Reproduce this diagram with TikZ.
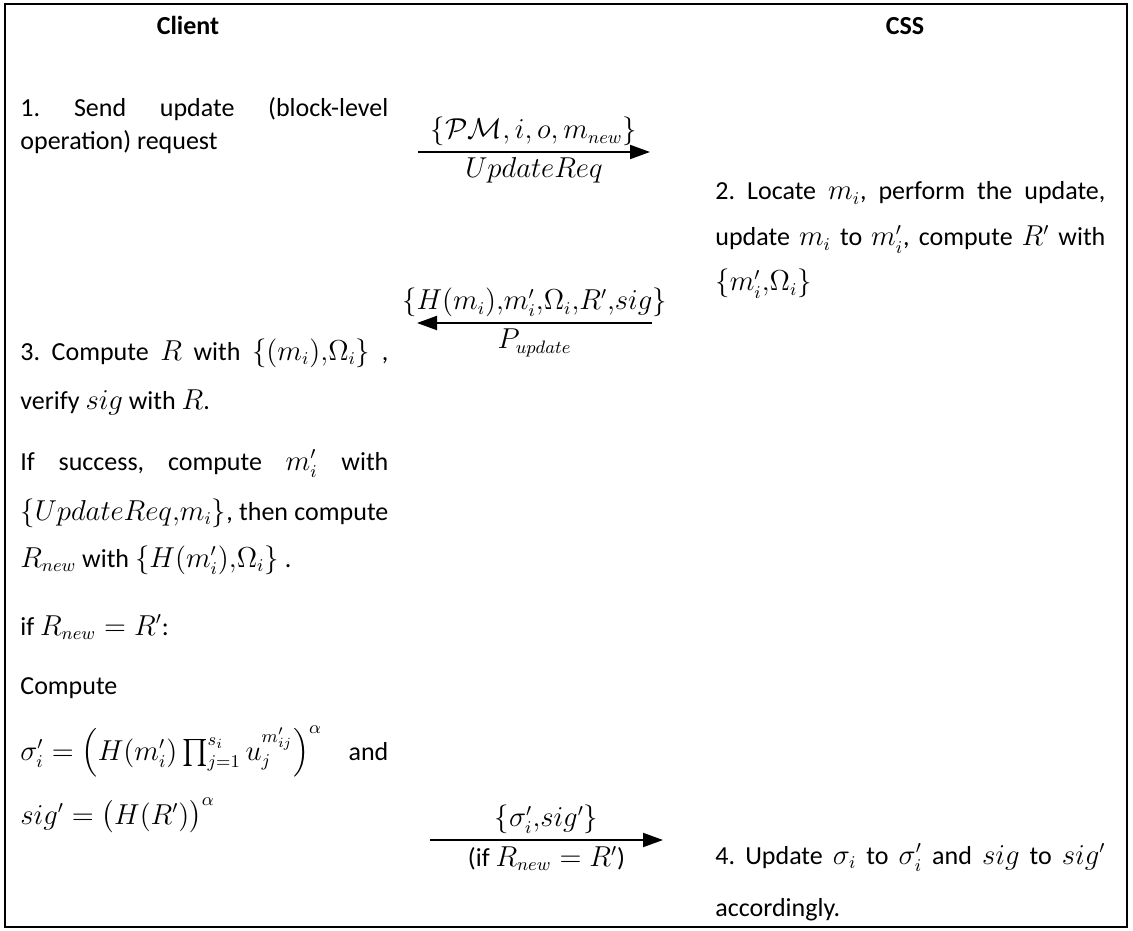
\documentclass[tikz,border=0pt]{standalone}
\usepackage{amsmath,amssymb}
\usepackage[no-math]{fontspec}
\setmainfont{Carlito}
\usetikzlibrary{arrows.meta}
\DeclareMathSizes{13}{13.5}{9.5}{7.5}
\frenchspacing
\newcommand{\jl}[1]{\makebox[184pt][s]{#1}}
\newcommand{\jr}[1]{\makebox[195pt][s]{#1}}

\begin{document}
\begin{tikzpicture}[x=0.5pt,y=-0.5pt,
    every node/.style={font=\fontsize{13pt}{15pt}\selectfont},
    txt/.style={anchor=base west,inner sep=0pt},
    head/.style={anchor=base,inner sep=0pt,font=\fontsize{13pt}{15pt}\selectfont\bfseries},
    msg/.style={line width=1pt,-{Triangle[length=10pt,width=7pt]}},
    lbl/.style={inner sep=2.5pt}]
    \useasboundingbox (0,0) rectangle (1133,930);
    \draw[line width=1.2pt] (5,4) rectangle (1127,927);

    % parties
    \node[head] (client) at (188,35) {Client}; \node[head] (css) at (905,35) {CSS};

    % client side
    \node[txt] (c1a) at (20,117) {\jl{1. Send update (block-level}};
    \node[txt] (c1b) at (20,150) {operation) request};
    \node[txt] (c3a) at (20,360) {\jl{3. Compute $R$ with $\{(m_i){,}\Omega_i\}$ ,}};
    \node[txt] (c3b) at (20,409) {verify $sig$ with $R$.};
    \node[txt] (c3c) at (20,470) {\jl{If success, compute $m_i'$ with}};
    \node[txt] (c3d) at (20,520) {\jl{$\{UpdateReq{,}m_i\}$, then compute}};
    \node[txt] (c3e) at (20,567) {$R_{new}$ with $\{H(m_i'){,}\Omega_i\}$ .};
    \node[txt] (c3f) at (20,635) {if $R_{new}=R'$:};
    \node[txt] (c3g) at (20,694) {Compute};
    \node[txt] (c3h) at (20,760) {\makebox[184pt][l]{$\sigma_i'=\Bigl(H(m_i')\prod_{j=1}^{s_i}u_j^{m_{ij}'}\Bigr)^{\alpha}$\hfill and}};
    \node[txt] (c3i) at (20,824) {$sig'=\bigl(H(R')\bigr)^{\alpha}$};

    % server side
    \node[txt] (s2a) at (715,200) {\jr{2. Locate $m_i$, perform the update,}};
    \node[txt] (s2b) at (715,246) {\jr{update $m_i$ to $m_i'$, compute $R'$ with}};
    \node[txt] (s2c) at (715,291) {$\{m_i'{,}\Omega_i\}$};
    \node[txt] (s4a) at (715,864) {\jr{4. Update $\sigma_i$ to $\sigma_i'$ and $sig$ to $sig'$}};
    \node[txt] (s4b) at (715,916) {accordingly.};

    % messages
    \coordinate (m1s) at (418,152); \coordinate (m1e) at (650,152);
    \coordinate (m2s) at (652,323); \coordinate (m2e) at (417,323);
    \coordinate (m3s) at (430,840); \coordinate (m3e) at (663,840);
    \draw[msg] (m1s) -- (m1e) node[midway,above,lbl] (m1t) {$\{\mathcal{PM},i,o,m_{new}\}$}
        node[midway,below,lbl] (m1b) {$UpdateReq$};
    \draw[msg] (m2s) -- (m2e) node[midway,above,lbl] (m2t) {$\{H(m_i){,}m_i'{,}\Omega_i{,}R'{,}sig\}$}
        node[midway,below,lbl] (m2b) {$P_{update}$};
    \draw[msg] (m3s) -- (m3e) node[midway,above,lbl] (m3t) {$\{\sigma_i'{,}sig'\}$}
        node[midway,below,lbl] (m3b) {(if $R_{new}=R'$)};
\end{tikzpicture}
\end{document}
